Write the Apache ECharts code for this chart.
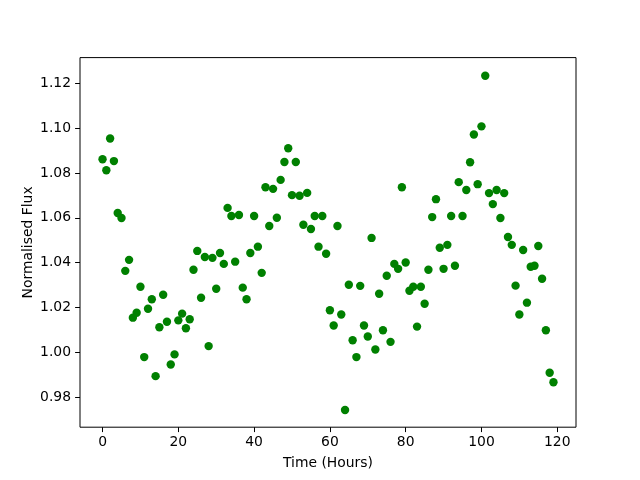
<!DOCTYPE html>
<html>
<head>
<meta charset="utf-8">
<script src="https://cdn.jsdelivr.net/npm/echarts@6/dist/echarts.min.js"></script>
<style>
  html, body { margin: 0; padding: 0; background: #fff; }
  #chart { width: 640px; height: 480px; }
</style>
</head>
<body>
<div id="chart"></div>
<script>
// hourly samples
var hours = [];
for (var h = 0; h < 120; h++) hours.push(h);

var flux = [
  1.0861, 1.0812, 1.0954, 1.0853, 1.0621, 1.0599, 1.0363, 1.0412, 1.0154, 1.0176,
  1.0292, 0.9978, 1.0194, 1.0236, 0.9893, 1.0111, 1.0256, 1.0136, 0.9945, 0.9990,
  1.0142, 1.0172, 1.0107, 1.0147, 1.0368, 1.0452, 1.0243, 1.0425, 1.0027, 1.0421,
  1.0283, 1.0443, 1.0394, 1.0644, 1.0608, 1.0404, 1.0612, 1.0288, 1.0236, 1.0443,
  1.0608, 1.0471, 1.0354, 1.0736, 1.0563, 1.0729, 1.0600, 1.0769, 1.0849, 1.0910,
  1.0701, 1.0849, 1.0698, 1.0569, 1.0711, 1.0550, 1.0608, 1.0471, 1.0608, 1.0439,
  1.0187, 1.0119, 1.0563, 1.0168, 0.9742, 1.0301, 1.0053, 0.9978, 1.0296, 1.0119,
  1.0070, 1.0510, 1.0012, 1.0261, 1.0098, 1.0341, 1.0046, 1.0394, 1.0372, 1.0736,
  1.0400, 1.0274, 1.0292, 1.0114, 1.0292, 1.0216, 1.0368, 1.0603, 1.0683, 1.0466,
  1.0372, 1.0479, 1.0608, 1.0386, 1.0759, 1.0608, 1.0724, 1.0848, 1.0972, 1.0750,
  1.1008, 1.1234, 1.0710, 1.0661, 1.0724, 1.0599, 1.0710, 1.0514, 1.0479, 1.0297,
  1.0168, 1.0456, 1.0221, 1.0381, 1.0386, 1.0474, 1.0328, 1.0098, 0.9908, 0.9866
];

var xTicks = [0, 20, 40, 60, 80, 100, 120];
var yTicks = [0.98, 1.00, 1.02, 1.04, 1.06, 1.08, 1.10, 1.12];

var points = [];
for (var i = 0; i < hours.length; i++) {
  points.push([hours[i], flux[i]]);
}

var chart = echarts.init(document.getElementById('chart'));

var font = 'DejaVu Sans';

option = {
  animation: false,
  backgroundColor: '#fff',
  grid: {
    left: 80,
    right: 64,
    top: 57.6,
    bottom: 52.8,
    show: true,
    borderColor: '#000',
    borderWidth: 1,
    backgroundColor: 'transparent'
  },
  xAxis: {
    type: 'value',
    min: -5.95,
    max: 124.95,
    name: 'Time (Hours)',
    nameLocation: 'middle',
    nameGap: 29,
    nameTextStyle: { color: '#000', fontFamily: font, fontSize: 13.9 },
    axisLine: { show: false, onZero: false },
    splitLine: { show: false },
    axisTick: {
      show: true, inside: false, length: 4.9,
      customValues: xTicks,
      lineStyle: { color: '#000', width: 1 }
    },
    axisLabel: {
      customValues: xTicks,
      margin: 8,
      color: '#000', fontFamily: font, fontSize: 13.9
    }
  },
  yAxis: {
    type: 'value',
    min: 0.9665,
    max: 1.1315,
    name: 'Normalised Flux',
    nameLocation: 'middle',
    nameGap: 45,
    nameMoveOverlap: false,
    nameTextStyle: { color: '#000', fontFamily: font, fontSize: 13.9 },
    axisLine: { show: false, onZero: false },
    splitLine: { show: false },
    axisTick: {
      show: true, inside: false, length: 4.9,
      customValues: yTicks,
      lineStyle: { color: '#000', width: 1 }
    },
    axisLabel: {
      customValues: yTicks,
      margin: 9,
      color: '#000', fontFamily: font, fontSize: 13.9,
      formatter: function (v) { return v.toFixed(2); }
    }
  },
  series: [
    {
      type: 'scatter',
      data: points,
      symbol: 'circle',
      symbolSize: 8.4,
      itemStyle: { color: '#008000', opacity: 1 }
    }
  ]
};

chart.setOption(option);
</script>
</body>
</html>
